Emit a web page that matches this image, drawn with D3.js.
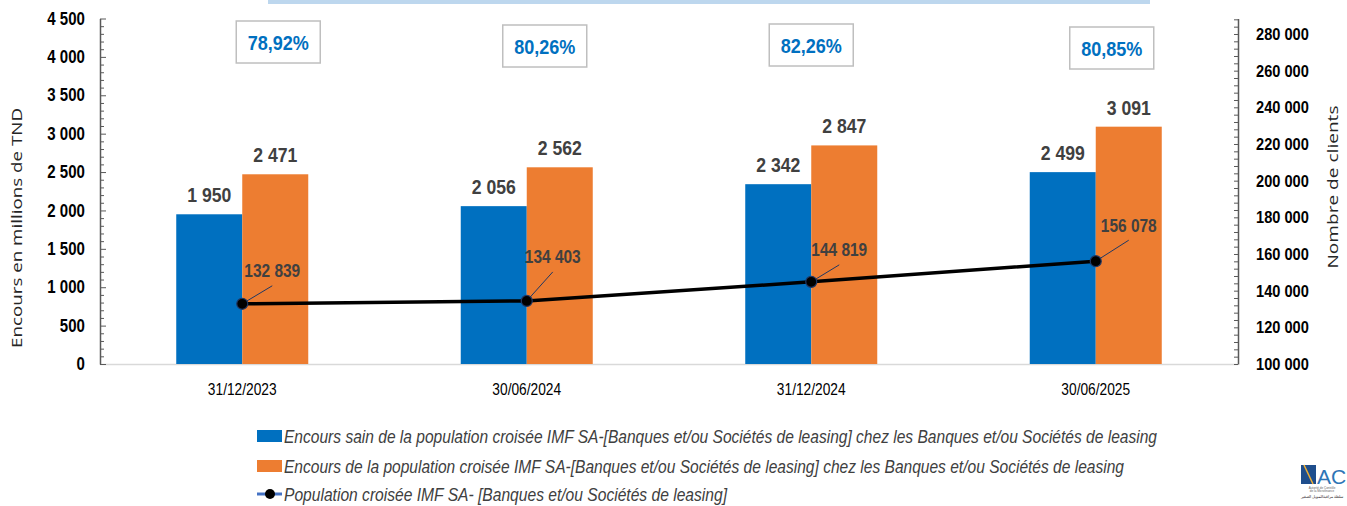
<!DOCTYPE html>
<html>
<head>
<meta charset="utf-8">
<script src="https://cdn.jsdelivr.net/npm/d3@7"></script>
<style>
  body { margin: 0; background: #fff; }
  svg { display: block; }
  .num { font-family: "Liberation Sans", Arial, sans-serif; }
</style>
</head>
<body>
<svg id="chart" width="1347" height="506"></svg>
<script>
// data
const dates = ["31/12/2023", "30/06/2024", "31/12/2024", "30/06/2025"];
const encoursSain = [1950, 2056, 2342, 2499];
const encoursTotal = [2471, 2562, 2847, 3091];
const population = [132839, 134403, 144819, 156078];
const ratios = ["78,92%", "80,26%", "82,26%", "80,85%"];
const leftTicks = [0, 500, 1000, 1500, 2000, 2500, 3000, 3500, 4000, 4500];
const rightTicks = [100000, 120000, 140000, 160000, 180000, 200000, 220000, 240000, 260000, 280000];
const seriesNames = [
    "Encours sain de la population croisée IMF SA-[Banques et/ou Sociétés de leasing] chez les Banques et/ou Sociétés de leasing",
    "Encours de la population croisée IMF SA-[Banques et/ou Sociétés de leasing] chez les Banques et/ou Sociétés de leasing",
    "Population croisée IMF SA- [Banques et/ou Sociétés de leasing]"
];

// layout only
const boxDx = [36, 18, 0, 16];
const boxTop = [21, 25, 24, 27];
const lblOff = [[30, -33], [26, -44], [28, -32], [33, -36]];

const BLUE = "#0070C0", ORANGE = "#ED7D31", TXT = "#404040";
const SX = 0.86; // narrow the glyphs a bit, the original font is condensed
const fr = d3.formatLocale({ decimal: ",", thousands: " ", grouping: [3], currency: ["", ""] });
const fmt = fr.format(",");

const svg = d3.select("#chart");
const mLeft = 100, mRight = 1238, mTop = 18.5, mBottom = 364;

const x = d3.scaleBand().domain(dates).range([mLeft, mRight]);
const yL = d3.scaleLinear().domain([0, 4500]).range([mBottom, mTop]);
const yR = d3.scaleLinear().domain([100000, 288450]).range([mBottom, mTop]);
const barW = x.bandwidth() * 0.232;
const cx = d => x(d) + x.bandwidth() / 2;

// place a text at (px, py) and squeeze it horizontally
function place(sel, px, py) {
    sel.attr("transform", (d, i) => `translate(${px(d, i)},${py(d, i)}) scale(${SX},1)`);
}

// top band
svg.append("rect").attr("x", 268).attr("y", 0).attr("width", 882).attr("height", 4).attr("fill", "#BDD7EE");

// x baseline
svg.append("line").attr("x1", mLeft).attr("x2", mRight).attr("y1", mBottom + 0.5).attr("y2", mBottom + 0.5)
    .attr("stroke", "#d9d9d9").attr("stroke-width", 1.5);

// left axis: labels
const gL = svg.append("g").attr("transform", `translate(${mLeft},0)`)
    .call(d3.axisLeft(yL).tickValues(leftTicks).tickSize(0).tickPadding(17.5).tickFormat(fmt));
gL.select(".domain").remove();
gL.selectAll("text").attr("class", "num").attr("transform", `scale(${SX},1)`)
    .style("font-size", "17.5px").style("font-weight", "bold").attr("fill", "#000");

// left axis: line + minor ticks
const gLt = svg.append("g").attr("transform", `translate(${mLeft},0)`)
    .call(d3.axisRight(yL).tickValues(d3.range(0, 4501, 100)).tickSizeInner(4).tickSizeOuter(0).tickFormat(""));
gLt.select(".domain").attr("stroke", "#595959").attr("stroke-width", 1.5);
gLt.selectAll(".tick line").attr("stroke", "#595959").attr("x2", d => d % 500 === 0 ? 6 : 4);

// right axis: labels
const gR = svg.append("g").attr("transform", `translate(${mRight},0)`)
    .call(d3.axisRight(yR).tickValues(rightTicks).tickSize(0).tickPadding(21).tickFormat(fmt));
gR.select(".domain").remove();
gR.selectAll("text").attr("class", "num").attr("transform", `scale(${SX},1)`)
    .style("font-size", "17px").style("font-weight", "bold").attr("fill", "#000");

// right axis: line + minor ticks
const gRt = svg.append("g").attr("transform", `translate(${mRight},0)`)
    .call(d3.axisLeft(yR).tickValues(d3.range(100000, 288001, 4000)).tickSizeInner(4).tickSizeOuter(0).tickFormat(""));
gRt.select(".domain").attr("stroke", "#595959").attr("stroke-width", 1.5);
gRt.selectAll(".tick line").attr("stroke", "#595959");

// x labels
svg.append("g").selectAll("text").data(dates).join("text")
    .attr("class", "num")
    .attr("text-anchor", "middle")
    .style("font-size", "16px").attr("fill", "#000")
    .text(d => d)
    .call(place, d => cx(d), () => 395);

// axis titles
svg.append("text")
    .attr("transform", "translate(22,228) rotate(-90)")
    .attr("text-anchor", "middle")
    .style("font-family", "'Open Sans', sans-serif").style("font-size", "15px").attr("fill", "#262626")
    .attr("textLength", 240).attr("lengthAdjust", "spacingAndGlyphs")
    .text("Encours en millions de TND");
svg.append("text")
    .attr("transform", "translate(1338,187) rotate(-90)")
    .attr("text-anchor", "middle")
    .style("font-family", "'Open Sans', sans-serif").style("font-size", "15px").attr("fill", "#262626")
    .attr("textLength", 163).attr("lengthAdjust", "spacingAndGlyphs")
    .text("Nombre de clients");

// bars
svg.append("g").selectAll("rect").data(dates).join("rect")
    .attr("x", d => cx(d) - barW).attr("width", barW)
    .attr("y", (d, i) => yL(encoursSain[i])).attr("height", (d, i) => mBottom - yL(encoursSain[i]))
    .attr("fill", BLUE);
svg.append("g").selectAll("rect").data(dates).join("rect")
    .attr("x", d => cx(d)).attr("width", barW)
    .attr("y", (d, i) => yL(encoursTotal[i])).attr("height", (d, i) => mBottom - yL(encoursTotal[i]))
    .attr("fill", ORANGE);

// bar labels
const barLabels = (vals, dx) => svg.append("g").selectAll("text").data(dates).join("text")
    .attr("class", "num")
    .attr("text-anchor", "middle")
    .style("font-size", "20.5px").style("font-weight", "bold").attr("fill", TXT)
    .text((d, i) => fmt(vals[i]))
    .call(place, d => cx(d) + dx, (d, i) => yL(vals[i]) - 12);
barLabels(encoursSain, -barW / 2);
barLabels(encoursTotal, barW / 2);

// population line
const pts = dates.map((d, i) => [cx(d), yR(population[i])]);
svg.append("path").attr("d", d3.line()(pts))
    .attr("fill", "none").attr("stroke", "#000").attr("stroke-width", 3.5);

// leader lines, markers, labels
svg.append("g").selectAll("line").data(pts).join("line")
    .attr("x1", p => p[0]).attr("y1", p => p[1])
    .attr("x2", (p, i) => p[0] + lblOff[i][0]).attr("y2", (p, i) => p[1] + lblOff[i][1] + 15)
    .attr("stroke", "#203864").attr("stroke-width", 1);
svg.append("g").selectAll("circle").data(pts).join("circle")
    .attr("cx", p => p[0]).attr("cy", p => p[1]).attr("r", 5.5)
    .attr("fill", "#000").attr("stroke", "#203864").attr("stroke-width", 1.2);
svg.append("g").selectAll("text").data(pts).join("text")
    .attr("class", "num")
    .attr("text-anchor", "middle")
    .style("font-size", "18px").style("font-weight", "bold").attr("fill", TXT)
    .text((p, i) => fmt(population[i]))
    .call(place, (p, i) => p[0] + lblOff[i][0], (p, i) => p[1] + lblOff[i][1] + 6.5);

// ratio boxes
const boxes = svg.append("g").selectAll("g").data(dates).join("g")
    .attr("transform", (d, i) => `translate(${cx(d) + boxDx[i] - 42},${boxTop[i]})`);
boxes.append("rect").attr("width", 84).attr("height", 42)
    .attr("fill", "#fff").attr("stroke", "#bfbfbf").attr("stroke-width", 1.5);
boxes.append("text").attr("class", "num")
    .attr("text-anchor", "middle")
    .style("font-size", "21px").style("font-weight", "bold").attr("fill", BLUE)
    .text((d, i) => ratios[i])
    .call(place, () => 42, () => 29);

// legend
const legW = [873, 840, 443];
const legY = [436, 466, 494];
const leg = svg.append("g").selectAll("g").data(seriesNames).join("g")
    .attr("transform", (d, i) => `translate(257,${legY[i]})`);
leg.filter((d, i) => i < 2).append("rect")
    .attr("x", 0).attr("y", -6).attr("width", 25).attr("height", 12)
    .attr("fill", (d, i) => i === 0 ? BLUE : ORANGE);
const legLine = leg.filter((d, i) => i === 2);
legLine.append("line").attr("x1", 0).attr("x2", 25).attr("y1", 0).attr("y2", 0)
    .attr("stroke", "#4472C4").attr("stroke-width", 3);
legLine.append("circle").attr("cx", 13).attr("cy", 0).attr("r", 5).attr("fill", "#000");
leg.append("text").attr("class", "num")
    .attr("x", 27).attr("y", 6.5)
    .style("font-size", "18px").style("font-style", "italic").attr("fill", TXT)
    .attr("textLength", (d, i) => legW[i]).attr("lengthAdjust", "spacingAndGlyphs")
    .text(d => d);

// logo (bottom right)
const logo = svg.append("g").attr("transform", "translate(1301,465)");
logo.append("rect").attr("width", 15).attr("height", 19).attr("fill", "#1F4E8C");
logo.append("line").attr("x1", 3).attr("y1", 0).attr("x2", 12).attr("y2", 19).attr("stroke", "#F2B134").attr("stroke-width", 1.5);
logo.append("text").attr("x", 16).attr("y", 19)
    .style("font-family", "'Liberation Sans', sans-serif").style("font-size", "21px").attr("fill", "#2E75B6")
    .text("AC");
logo.selectAll("text.small").data(["Autorité de Contrôle", "de la Microfinance"]).join("text")
    .attr("class", "small")
    .attr("x", 21).attr("y", (d, i) => 23.5 + i * 3.5).attr("text-anchor", "middle")
    .style("font-family", "'Liberation Sans', sans-serif").style("font-size", "3px").attr("fill", "#666")
    .text(d => d);
logo.append("text").attr("x", 21).attr("y", 32.5).attr("text-anchor", "middle")
    .style("font-family", "'Noto Sans', sans-serif").style("font-size", "3.5px").attr("fill", "#333")
    .text("سلطة مراقبة التمويل الصغير");
</script>
</body>
</html>
